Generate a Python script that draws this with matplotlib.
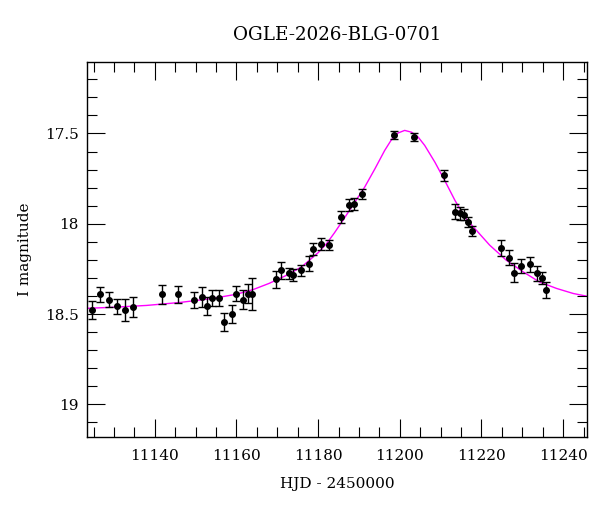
import matplotlib
matplotlib.use('Agg')
import matplotlib.pyplot as plt
from matplotlib.ticker import MultipleLocator

# Photometric points: HJD - 2450000, I magnitude, error
hjd = [11124.7, 11126.7, 11128.7, 11130.8, 11132.7, 11134.7, 11141.7, 11145.7,
       11149.7, 11151.6, 11152.9, 11153.9, 11155.8, 11156.9, 11158.8, 11159.8,
       11161.7, 11162.9, 11163.7, 11169.8, 11170.8, 11172.8, 11173.9, 11175.8,
       11177.8, 11178.8, 11180.8, 11182.7, 11185.7, 11187.6, 11188.8, 11190.8,
       11198.7, 11203.5, 11210.8, 11213.6, 11214.7, 11215.7, 11216.8, 11217.7,
       11224.7, 11226.8, 11227.9, 11229.6, 11231.9, 11233.6, 11234.9, 11235.9]
mag = [18.478, 18.390, 18.420, 18.456, 18.478, 18.460, 18.390, 18.390,
       18.420, 18.405, 18.455, 18.410, 18.410, 18.543, 18.500, 18.386,
       18.420, 18.386, 18.390, 18.308, 18.257, 18.275, 18.285, 18.257,
       18.220, 18.140, 18.113, 18.118, 17.962, 17.897, 17.888, 17.836,
       17.508, 17.518, 17.731, 17.934, 17.943, 17.949, 17.990, 18.040,
       18.133, 18.187, 18.270, 18.235, 18.224, 18.275, 18.300, 18.368]
err = [0.050, 0.042, 0.042, 0.042, 0.061, 0.057, 0.053, 0.047,
       0.044, 0.054, 0.049, 0.043, 0.043, 0.050, 0.051, 0.042,
       0.051, 0.050, 0.090, 0.049, 0.046, 0.032, 0.032, 0.030,
       0.039, 0.034, 0.032, 0.028, 0.035, 0.032, 0.033, 0.028,
       0.021, 0.022, 0.031, 0.041, 0.034, 0.030, 0.030, 0.030,
       0.046, 0.041, 0.054, 0.039, 0.041, 0.041, 0.035, 0.044]

# model curve
model_t = [11123.4, 11130, 11138, 11146, 11154, 11160, 11164, 11168, 11172,
           11176, 11180, 11182.1, 11184, 11186.1, 11189.0, 11191.4, 11193.9,
           11196.3, 11198.0, 11199.6, 11201.2, 11202.9, 11204.5, 11206.1,
           11208.6, 11211.0, 11213.5, 11215.9, 11218.0, 11222.0, 11226.1,
           11230.2, 11234.2, 11238.4, 11242.5, 11245.8]
model_mag = [18.468, 18.462, 18.452, 18.436, 18.414, 18.390, 18.365, 18.330,
             18.288, 18.238, 18.160, 18.109, 18.050, 17.980, 17.880, 17.797,
             17.696, 17.594, 17.533, 17.497, 17.483, 17.493, 17.520, 17.566,
             17.659, 17.760, 17.870, 17.963, 18.017, 18.118, 18.202,
             18.266, 18.322, 18.358, 18.386, 18.401]

plt.rcParams['font.family'] = ['DejaVu Serif']
plt.rcParams['font.size'] = 11

fig = plt.figure(figsize=(6, 5.12), dpi=100)
ax = fig.add_axes([0.145, 0.147, 0.833, 0.732])

ax.plot(model_t, model_mag, color='#ff00ff', lw=1.0, zorder=1)
ax.errorbar(hjd, mag, yerr=err, fmt='o', color='black', ms=4,
            ecolor='black', elinewidth=1.0, capsize=3, capthick=1.0, zorder=2)

ax.set_xlim(11123.4, 11245.8)
ax.set_ylim(19.179, 17.104)

ax.xaxis.set_major_locator(MultipleLocator(20))
ax.xaxis.set_minor_locator(MultipleLocator(5))
ax.yaxis.set_major_locator(MultipleLocator(0.5))
ax.yaxis.set_minor_locator(MultipleLocator(0.1))
ax.yaxis.set_major_formatter(plt.FuncFormatter(lambda v, p: '%g' % v))

ax.tick_params(which='both', direction='in', top=True, right=True, width=0.8)
ax.tick_params(which='major', length=13)
ax.tick_params(which='minor', length=7)
ax.tick_params(axis='x', which='major', pad=9)
ax.tick_params(axis='y', which='major', pad=6)
for s in ax.spines.values():
    s.set_linewidth(1.0)

ax.set_xlabel('HJD - 2450000', labelpad=10)
ax.set_ylabel('I magnitude', labelpad=9)
ax.set_title('OGLE-2026-BLG-0701', pad=16)

fig.savefig('out.png', dpi=100)
